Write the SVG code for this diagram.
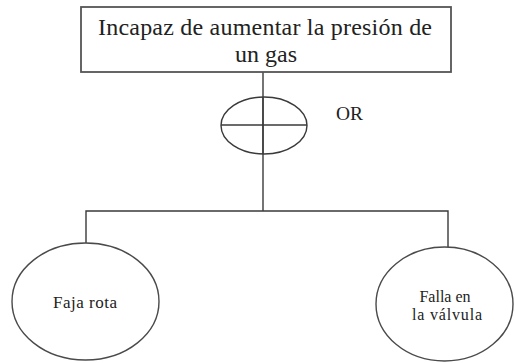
<svg xmlns="http://www.w3.org/2000/svg" width="515" height="363" viewBox="0 0 515 363">
<style>
.ln{stroke:#3a3a3a;stroke-width:1.4;fill:none}
.nd{stroke:#4a4a4a;stroke-width:1.4;fill:#fff}
.t{font-family:"Liberation Serif","DejaVu Serif",serif;fill:#222}
</style>
<rect width="515" height="363" fill="#fff"/>
<g id="connectors">
<line class="ln" x1="263" y1="72" x2="263" y2="211"/>
<polyline class="ln" points="86,243 86,211 448,211 448,247"/>
</g>
<g id="top-event">
<rect class="nd" x="81" y="7" width="370" height="65" style="stroke:#555;stroke-width:1.8"/>
<text class="t" x="98" y="35" font-size="24" textLength="334" lengthAdjust="spacing">Incapaz de aumentar la presión de</text>
<text class="t" x="266" y="62" font-size="24" text-anchor="middle">un gas</text>
</g>
<g id="or-gate">
<ellipse class="ln" cx="264" cy="125.5" rx="43" ry="28.5"/>
<line class="ln" x1="221" y1="125" x2="307" y2="125"/>
<line class="ln" x1="263" y1="97" x2="263" y2="154"/>
<text class="t" x="336" y="120" font-size="18" textLength="27" lengthAdjust="spacingAndGlyphs">OR</text>
</g>
<g id="faja-rota">
<ellipse class="nd" cx="85.5" cy="301.5" rx="73.5" ry="58.5"/>
<text class="t" x="53" y="308" font-size="17" textLength="64" lengthAdjust="spacing">Faja rota</text>
</g>
<g id="falla-valvula">
<ellipse class="nd" cx="444.5" cy="304" rx="68.5" ry="57"/>
<text class="t" x="445" y="302" font-size="16" text-anchor="middle">Falla en</text>
<text class="t" x="412" y="320" font-size="16" textLength="70" lengthAdjust="spacing">la válvula</text>
</g>
</svg>
